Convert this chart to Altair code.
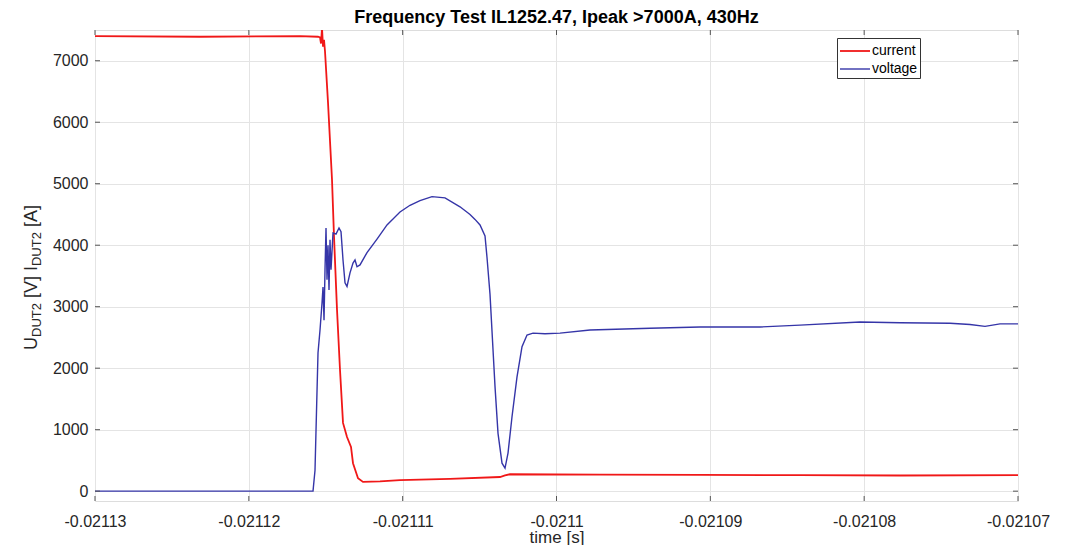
import altair as alt
import pandas as pd

# ---- data ----
current_t = [-0.021130000, -0.021123174, -0.021116673, -0.021115503, -0.021115373,
             -0.021115308, -0.021115243, -0.021115178, -0.021115113, -0.021115048,
             -0.021114853, -0.021114593, -0.021114463, -0.021114268, -0.021114073,
             -0.021113878, -0.021113618, -0.021113358, -0.021113228, -0.021112903,
             -0.021112578, -0.021111473, -0.021110173, -0.021106923, -0.021103672,
             -0.021103347, -0.021103022, -0.021097172, -0.021090671, -0.021084170,
             -0.021077670, -0.021070000]
current_a = [7400, 7390, 7400, 7390, 7380,
             7280, 7530, 7230, 7340, 7150,
             6320, 5065, 4140, 2950, 1970,
             1110, 880, 720, 455, 210,
             150, 160, 180, 200, 230,
             255, 275, 270, 265, 260,
             255, 260]

voltage_t = [-0.021130000, -0.021123174, -0.021115828, -0.021115698, -0.021115588,
             -0.021115503, -0.021115373, -0.021115243, -0.021115178, -0.021115113,
             -0.021115048, -0.021114983, -0.021114918, -0.021114853, -0.021114788,
             -0.021114723, -0.021114658, -0.021114528, -0.021114333, -0.021114138,
             -0.021114008, -0.021113878, -0.021113748, -0.021113618, -0.021113423,
             -0.021113228, -0.021113098, -0.021112968, -0.021112773, -0.021112318,
             -0.021111668, -0.021111018, -0.021110173, -0.021109523, -0.021108873,
             -0.021108093, -0.021107248, -0.021106273, -0.021105622, -0.021105297,
             -0.021104972, -0.021104647, -0.021104517, -0.021104322, -0.021104127,
             -0.021103997, -0.021103802, -0.021103542, -0.021103347, -0.021103152,
             -0.021102892, -0.021102567, -0.021102242, -0.021101917, -0.021101527,
             -0.021100747, -0.021099772, -0.021097822, -0.021093921, -0.021090671,
             -0.021086771, -0.021084170, -0.021080270, -0.021077670, -0.021074419,
             -0.021073119, -0.021072144, -0.021071169, -0.021070000]
voltage_v = [0, 0, 0, 340, 1430,
             2250, 2620, 3060, 3320, 2780,
             3600, 4280, 3440, 4000, 3270,
             4090, 3600, 4200, 4180, 4280,
             4220, 3760, 3390, 3330, 3550,
             3710, 3760, 3650, 3680, 3880,
             4100, 4330, 4540, 4650, 4725,
             4790, 4770, 4625, 4500, 4420,
             4330, 4150, 3800, 3200, 2300,
             1700, 940, 455, 375, 620,
             1210, 1860, 2350, 2540, 2570,
             2560, 2570, 2620, 2650, 2670,
             2670, 2700, 2750, 2740, 2730,
             2710, 2680, 2720, 2720]

series_names = ["current", "voltage"]
series_colors = ["#f01818", "#3535a8"]
series_widths = [1.8, 1.4]

x_ticks = [-0.02113, -0.02112, -0.02111, -0.0211, -0.02109, -0.02108, -0.02107]
y_ticks = [0, 1000, 2000, 3000, 4000, 5000, 6000, 7000]

title_text = "Frequency Test IL1252.47, Ipeak >7000A, 430Hz"
x_title = "time [s]"
# y-axis title pieces: (text, is_subscript)
y_title_pieces = [("U", False), ("DUT2", True), ("[V]", False),
                  ("I", False), ("DUT2", True), ("[A]", False)]

# ---- layout ----
W, H = 923, 471
FONT = "Liberation Sans"
TXT = "#262626"

df = pd.concat([
    pd.DataFrame({"t": current_t, "v": current_a, "series": series_names[0]}),
    pd.DataFrame({"t": voltage_t, "v": voltage_v, "series": series_names[1]}),
], ignore_index=True)

x_scale = alt.Scale(domain=[-0.02113, -0.02107], nice=False, zero=False)
y_scale = alt.Scale(domain=[-160, 7500], nice=False, zero=False)

x_axis = alt.Axis(values=x_ticks, title=x_title, ticks=False, domain=False,
                  grid=True, gridColor="#e4e4e4",
                  labelExpr="replace(format(datum.value, '.5~f'), '\u2212', '-')",
                  labelFont=FONT, labelFontSize=16, labelColor=TXT, labelPadding=12,
                  labelFlush=False, labelOverlap=False,
                  titleFont=FONT, titleFontSize=17, titleFontWeight="normal",
                  titleColor=TXT, titlePadding=0)
y_axis = alt.Axis(values=y_ticks, title=None, ticks=False, domain=False,
                  grid=True, gridColor="#e4e4e4", format="d",
                  labelFont=FONT, labelFontSize=16, labelColor=TXT, labelPadding=7)

lines = alt.Chart(df).mark_line(clip=True).encode(
    x=alt.X("t:Q", scale=x_scale, axis=x_axis),
    y=alt.Y("v:Q", scale=y_scale, axis=y_axis),
    color=alt.Color("series:N",
                    scale=alt.Scale(domain=series_names, range=series_colors),
                    legend=alt.Legend(orient="none", legendX=742, legendY=8,
                                      title=None, symbolType="M-1.5,0H1.5",
                                      symbolStrokeWidth=1.3, symbolSize=400,
                                      symbolOffset=5,
                                      labelFont=FONT, labelFontSize=14,
                                      labelColor="#000000", labelOffset=6,
                                      strokeColor="#333333", fillColor="white",
                                      padding=2, rowPadding=0, cornerRadius=0)),
    strokeWidth=alt.StrokeWidth("series:N",
                                scale=alt.Scale(domain=series_names, range=series_widths),
                                legend=None),
    order=alt.Order("t:Q"),
)

xt = pd.DataFrame({"t": x_ticks})
yt = pd.DataFrame({"v": y_ticks})
tick_len = 5
xtick_bottom = alt.Chart(xt).mark_rule(color="#555555").encode(
    x=alt.X("t:Q", scale=x_scale, axis=x_axis), y=alt.value(H), y2=alt.value(H - tick_len))
xtick_top = alt.Chart(xt).mark_rule(color="#555555").encode(
    x=alt.X("t:Q", scale=x_scale, axis=x_axis), y=alt.value(0), y2=alt.value(tick_len))
ytick_left = alt.Chart(yt).mark_rule(color="#555555").encode(
    y=alt.Y("v:Q", scale=y_scale, axis=y_axis), x=alt.value(0), x2=alt.value(tick_len))
ytick_right = alt.Chart(yt).mark_rule(color="#555555").encode(
    y=alt.Y("v:Q", scale=y_scale, axis=y_axis), x=alt.value(W), x2=alt.value(W - tick_len))

# y title built from pieces (rotated, with subscripts)
MAIN, SUB = 18, 13
char_w = {"U": 0.722, "D": 0.722, "T": 0.611, "2": 0.556, "[": 0.278, "]": 0.278,
          "V": 0.667, "A": 0.667, "I": 0.278, " ": 0.278}
pos = 320.0
title_layers = []
for i, (txt, sub) in enumerate(y_title_pieces):
    fs = SUB if sub else MAIN
    if i > 0 and not sub:
        pos -= char_w[" "] * MAIN
    title_layers.append(
        alt.Chart(alt.Data(values=[{}])).mark_text(
            angle=270, align="left", baseline="alphabetic",
            font=FONT, fontSize=fs, color=TXT
        ).encode(x=alt.value(-54 if sub else -58), y=alt.value(pos), text=alt.value(txt))
    )
    pos -= sum(char_w[c] for c in txt) * fs

chart = alt.layer(lines, xtick_bottom, xtick_top, ytick_left, ytick_right, *title_layers).properties(
    width=W, height=H,
    title=alt.TitleParams(title_text, font=FONT, fontSize=18, fontWeight="bold",
                          color="#000000", anchor="middle", offset=3),
    autosize=alt.AutoSizeParams(type="none"),
    padding={"left": 87, "top": 22, "right": 40, "bottom": 44},
).configure_view(stroke="#7a7a7a", strokeWidth=1).configure(background="white")

chart.save("out.html", embed_options={"renderer": "svg", "actions": False})
